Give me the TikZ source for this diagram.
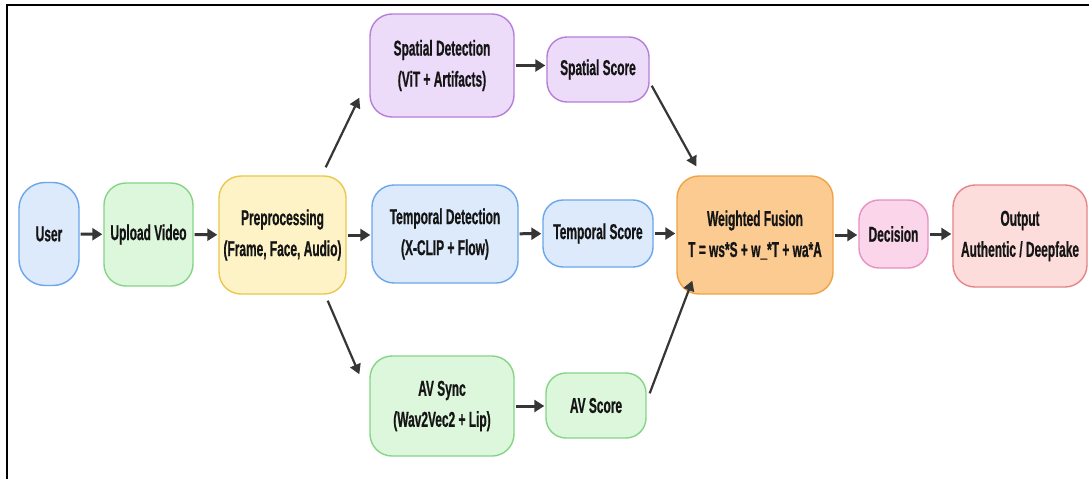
\documentclass[tikz,border=0pt]{standalone}
\usepackage{fontspec}
\setmainfont{Liberation Sans}[FakeStretch=0.555, BoldFeatures={FakeBold=0.6}]
\usetikzlibrary{arrows.meta,calc}
\definecolor{bluefill}{HTML}{DCEAFB}
\definecolor{blueline}{HTML}{6AA6EC}
\definecolor{greenfill}{HTML}{DDF7DC}
\definecolor{greenline}{HTML}{86D486}
\definecolor{yellowfill}{HTML}{FDF3C6}
\definecolor{yellowline}{HTML}{E9C84E}
\definecolor{purplefill}{HTML}{EDDBFA}
\definecolor{purpleline}{HTML}{B67ED8}
\definecolor{orangefill}{HTML}{FBCB92}
\definecolor{orangeline}{HTML}{EFA444}
\definecolor{pinkfill}{HTML}{FBD6EB}
\definecolor{pinkline}{HTML}{E890C2}
\definecolor{redfill}{HTML}{FDDCDC}
\definecolor{redline}{HTML}{E68585}
\definecolor{arrowgray}{HTML}{363636}
\definecolor{textdark}{HTML}{151515}
\tikzset{
  box/.style={draw, line width=1.4pt, rounded corners=22pt, align=center, inner sep=0pt,
    text=textdark, font=\bfseries\fontsize{21.5}{31}\selectfont},
  bluebox/.style={box, fill=bluefill, draw=blueline},
  greenbox/.style={box, fill=greenfill, draw=greenline},
  yellowbox/.style={box, fill=yellowfill, draw=yellowline},
  purplebox/.style={box, fill=purplefill, draw=purpleline},
  orangebox/.style={box, fill=orangefill, draw=orangeline},
  pinkbox/.style={box, fill=pinkfill, draw=pinkline},
  redbox/.style={box, fill=redfill, draw=redline},
  harr/.style={draw=arrowgray, line width=3pt, -{Triangle[length=10pt,width=12pt]}, shorten >=1pt, shorten <=1pt},
  darr/.style={draw=arrowgray, line width=2.2pt, -{Triangle[length=10pt,width=11pt]}},
}
\begin{document}
\begin{tikzpicture}[x=1pt,y=-1pt]
\useasboundingbox (0,0) rectangle (1089,479);
\fill[white] (0,0) rectangle (1089,479);
\draw[line width=2pt, black] (7,479) -- (7,5) -- (1089,5);

\node[bluebox, minimum width=60pt, minimum height=103pt, rounded corners=26pt] (user) at (49,234) {User};
\node[greenbox, minimum width=89pt, minimum height=103pt] (upload) at (148.5,234.5) {Upload Video};
\node[yellowbox, minimum width=127pt, minimum height=118pt] (pre) at (282.5,235) {Preprocessing\\(Frame, Face, Audio)};

\node[purplebox, minimum width=144pt, minimum height=103pt] (sd) at (442,65.5) {Spatial Detection\\(ViT + Artifacts)};
\node[purplebox, minimum width=102pt, minimum height=65pt, rounded corners=20pt] (ss) at (598,69.5) {Spatial Score};

\node[bluebox, minimum width=146pt, minimum height=98pt] (td) at (445,234) {Temporal Detection\\(X-CLIP + Flow)};
\node[bluebox, minimum width=110pt, minimum height=67pt, rounded corners=20pt] (ts) at (598,233.5) {Temporal Score};

\node[greenbox, minimum width=144pt, minimum height=100pt] (av) at (442,406) {AV Sync\\(Wav2Vec2 + Lip)};
\node[greenbox, minimum width=100pt, minimum height=65pt, rounded corners=20pt] (as) at (596,405.5) {AV Score};

\node[orangebox, minimum width=156pt, minimum height=118pt] (fu) at (755,235) {Weighted Fusion\\T = ws*S + w\_*T + wa*A};
\node[pinkbox, minimum width=69pt, minimum height=68pt, rounded corners=20pt] (de) at (893.5,234) {Decision};
\node[redbox, minimum width=134pt, minimum height=102pt] (out) at (1020,236) {Output\\Authentic / Deepfake};

\draw[harr] (user) -- (upload);
\draw[harr] (upload) -- (pre);
\draw[harr] (pre.east) -- (td.west |- pre.east);
\draw[harr] (sd.east) -- (ss.west |- sd.east);
\draw[harr] (td) -- (ts);
\draw[harr] (av.east) -- (as.west |- av.east);
\draw[harr] (ts.east) -- (fu.west |- ts.east);
\draw[harr] (fu.east) -- (de.west |- fu.east);
\draw[harr] (de.east) -- (out.west |- de.east);

\draw[darr] ([xshift=-21pt,yshift=8pt]pre.north east) -- ([xshift=-10pt,yshift=20pt]sd.south west);
\draw[darr] ([xshift=-19pt,yshift=-6pt]pre.south east) -- ([xshift=-10pt,yshift=-19pt]av.north west);
\draw[darr] ([xshift=2pt,yshift=17pt]ss.south east) -- ([xshift=20pt,yshift=9pt]fu.north west);
\draw[darr] ([xshift=3pt,yshift=-21pt]as.north east) -- ([xshift=16pt,yshift=14pt]fu.south west);
\end{tikzpicture}
\end{document}
